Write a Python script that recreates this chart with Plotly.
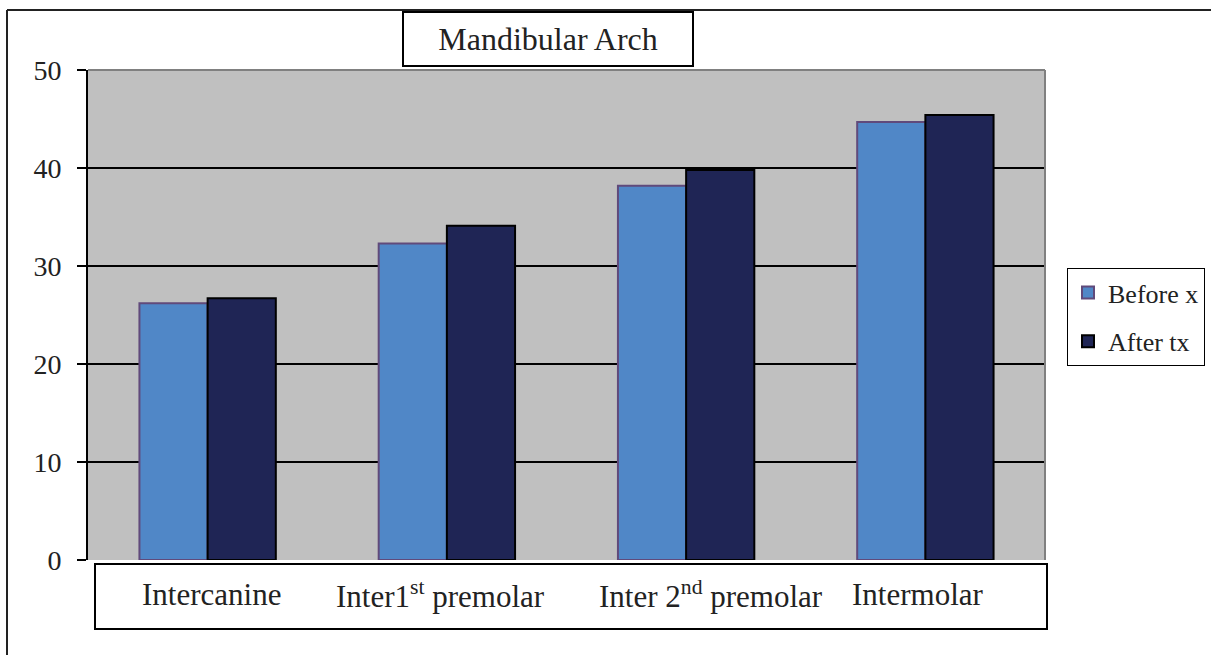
import plotly.graph_objects as go

categories = ["Intercanine", "Inter1<sup>st</sup> premolar", "Inter 2<sup>nd</sup> premolar", "Intermolar"]
before_tx = [26.2, 32.3, 38.2, 44.7]
after_tx = [26.7, 34.1, 39.8, 45.4]
series_names = ["Before x", "After tx"]
y_ticks = [0, 10, 20, 30, 40, 50]
title_text = "Mandibular Arch"

# style: horizontal nudges of category labels (px)
label_shift = [4, -6, 25, -7]

FONT = "Liberation Serif"

W, H = 1211, 655
L, R, T, B = 88, 1211 - 1045, 70, 655 - 560

fig = go.Figure()
fig.add_trace(go.Bar(
    x=categories, y=before_tx, name=series_names[0], legendgroup="g1",
    marker=dict(color="#5087C7", line=dict(color="#604A7B", width=2)),
))
fig.add_trace(go.Bar(
    x=categories, y=after_tx, name=series_names[1], legendgroup="g2",
    marker=dict(color="#1F2555", line=dict(color="#000000", width=2)),
))

pw = W - L - R
ph = H - T - B
def px(xp):
    return (xp - L) / pw
def py(yp):
    return (H - B - yp) / ph

shapes = [
    # x label box
    dict(type="rect", xref="paper", yref="paper",
         x0=px(95), x1=px(1047), y0=py(629), y1=py(564),
         line=dict(color="black", width=2), fillcolor="white", layer="below"),
    # plot area border top/right (gray)
    dict(type="line", xref="paper", yref="paper", x0=0, x1=1, y0=1, y1=1,
         line=dict(color="#808080", width=2)),
    dict(type="line", xref="paper", yref="paper", x0=1, x1=1, y0=0, y1=1,
         line=dict(color="#808080", width=2)),
    # outer border (left and top)
    dict(type="line", xref="paper", yref="paper", x0=px(7), x1=px(7), y0=py(655), y1=py(10),
         line=dict(color="#222222", width=2)),
    dict(type="line", xref="paper", yref="paper", x0=px(7), x1=px(1211), y0=py(10), y1=py(10),
         line=dict(color="#222222", width=2)),
]

annotations = [
    dict(text=title_text, xref="paper", yref="paper",
         x=px(548), y=py(39), xanchor="center", yanchor="middle",
         showarrow=False, font=dict(family=FONT, size=32, color="#222222"),
         bgcolor="white", bordercolor="black", borderwidth=2,
         width=286, height=50),
]
for cat, sh in zip(categories, label_shift):
    annotations.append(dict(
        text=cat, xref="x", yref="paper", x=cat, y=py(594),
        xanchor="center", yanchor="middle", xshift=sh, showarrow=False,
        font=dict(family=FONT, size=31, color="#222222"),
    ))

fig.update_layout(
    width=W, height=H,
    margin=dict(l=L, r=R, t=T, b=B, autoexpand=False),
    paper_bgcolor="white",
    plot_bgcolor="#C0C0C0",
    barmode="group",
    bargap=0.43,
    bargroupgap=0,
    font=dict(family=FONT, color="#222222"),
    showlegend=True,
    legend=dict(
        xref="container", yref="container",
        x=1067 / W, y=1 - 268 / H, xanchor="left", yanchor="top",
        bgcolor="white", bordercolor="black", borderwidth=1,
        font=dict(family=FONT, size=26, color="#222222"),
        tracegroupgap=12, itemwidth=30,
    ),
    xaxis=dict(
        showgrid=False, showline=False, ticks="", showticklabels=False,
    ),
    yaxis=dict(
        range=[0, 50], tickvals=y_ticks,
        showgrid=True, gridcolor="#000000", gridwidth=1.5,
        showline=True, linecolor="#000000", linewidth=2,
        ticks="outside", ticklen=9, tickcolor="black", tickwidth=1.5,
        tickfont=dict(family=FONT, size=28, color="#222222"),
        ticklabelstandoff=10,
        zeroline=False,
    ),
    shapes=shapes,
    annotations=annotations,
)

fig.write_html("out.html", config={"displayModeBar": False},
               post_script="document.body.style.margin='0';document.body.style.padding='0';")
